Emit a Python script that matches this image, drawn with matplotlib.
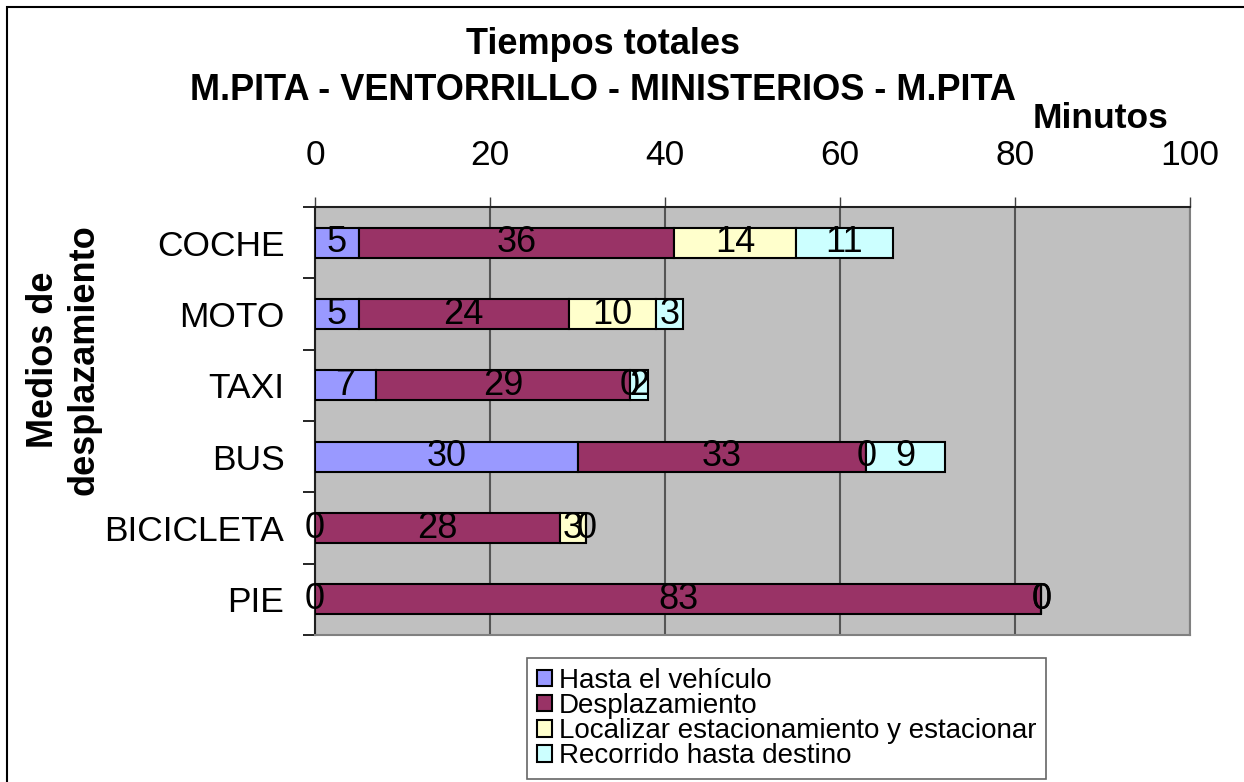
import matplotlib
matplotlib.use("Agg")
import matplotlib.pyplot as plt
from matplotlib.patches import Rectangle
import numpy as np

# data (minutes)
medios = ["COCHE", "MOTO", "TAXI", "BUS", "BICICLETA", "PIE"]
hasta_vehiculo = [5, 5, 7, 30, 0, 0]
desplazamiento = [36, 24, 29, 33, 28, 83]
estacionar = [14, 10, 0, 0, 3, 0]
recorrido_destino = [11, 3, 2, 9, 0, 0]

series_names = ["Hasta el vehículo", "Desplazamiento",
                "Localizar estacionamiento y estacionar", "Recorrido hasta destino"]
series_colors = ["#9999FF", "#993366", "#FFFFCC", "#CCFFFF"]
x_ticks = [0, 20, 40, 60, 80, 100]

plt.rcParams['font.family'] = ['Liberation Sans', 'DejaVu Sans']

W, H = 1244, 782
fig = plt.figure(figsize=(W / 100, H / 100), dpi=100)
ax = fig.add_axes([315 / W, 1 - 635 / H, (1190 - 315) / W, (635 - 207) / H])
ax.set_facecolor("#C0C0C0")

y = np.arange(len(medios))
left = np.zeros(len(medios))
for vals, name, col in zip([hasta_vehiculo, desplazamiento, estacionar, recorrido_destino],
                           series_names, series_colors):
    bars = ax.barh(y, vals, left=left, height=0.42, color=col, edgecolor="black",
                   linewidth=1.5, label=name, zorder=3)
    ax.bar_label(bars, labels=[str(v) for v in vals], label_type="center",
                 fontsize=26, color="black", zorder=4)
    left += np.array(vals)

ax.set_xlim(0, 100)
ax.set_ylim(len(medios) - 0.5, -0.5)
ax.set_xticks(x_ticks)
ax.xaxis.tick_top()
ax.tick_params(axis="x", which="major", length=7, width=1, color="#404040",
               labelsize=25.5, pad=18)
ax.grid(axis="x", color="#555555", linewidth=1.5, zorder=1)

ax.set_yticks(y)
ax.set_yticklabels(medios)
ax.set_yticks(np.arange(-0.5, len(medios)), minor=True)
ax.tick_params(axis="y", which="major", length=0, labelsize=25.5, pad=22)
ax.tick_params(axis="y", which="minor", length=9, width=1.2, color="black")

for s in ["top", "left"]:
    ax.spines[s].set_color("#202020")
    ax.spines[s].set_linewidth(1.5)
for s in ["right", "bottom"]:
    ax.spines[s].set_color("#808080")
    ax.spines[s].set_linewidth(1.5)

fig.text(603 / W, 1 - 45 / H, "Tiempos totales", ha="center", va="center",
         fontsize=26, fontweight="bold")
fig.text(603 / W, 1 - 90 / H, "M.PITA - VENTORRILLO - MINISTERIOS - M.PITA",
         ha="center", va="center", fontsize=26, fontweight="bold")
fig.text(1101 / W, 1 - 119 / H, "Minutos", ha="center", va="center",
         fontsize=25.5, fontweight="bold")
fig.text(64 / W, 1 - 360 / H, "Medios de\ndesplazamiento", ha="center", va="center",
         rotation=90, fontsize=26, fontweight="bold", linespacing=1.2,
         multialignment="center")

leg = fig.legend(loc="upper left", bbox_to_anchor=(527 / W, 1 - 658 / H),
                 fontsize=20, frameon=True, fancybox=False, shadow=False,
                 labelspacing=-0.03, handlelength=0.55, handleheight=0.55,
                 handletextpad=0.25, borderpad=0.35, borderaxespad=0)
leg.get_frame().set_edgecolor("#404040")
leg.get_frame().set_linewidth(1.2)
for h in leg.legend_handles:
    h.set_linewidth(1.5)

fig.patches.append(Rectangle((7 / W, -0.1), 1.2, 1.1 - 7 / H, transform=fig.transFigure,
                             fill=False, edgecolor="black", linewidth=1.5))

fig.savefig("out.png", dpi=100)
